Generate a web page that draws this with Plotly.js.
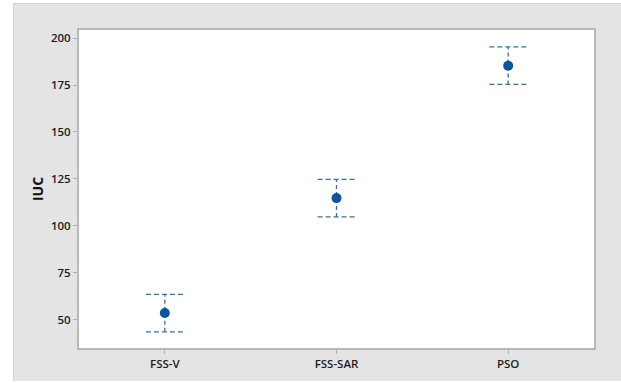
<!DOCTYPE html>
<html>
<head>
<meta charset="utf-8">
<script src="https://cdn.plot.ly/plotly-3.0.1.min.js"></script>
<style>
  html, body { margin: 0; padding: 0; background: #ffffff; }
  #wrap { position: relative; width: 621px; height: 383px; background: #ffffff; overflow: hidden; }
  #chart { position: absolute; left: 13px; top: 3px; width: 608px; height: 378px;
           box-sizing: border-box; border-left: 1px solid #d2d2d2; border-top: 1px solid #d2d2d2;
           border-bottom: 1px solid #d2d2d2; }
</style>
</head>
<body>
<div id="wrap"><div id="chart"></div></div>
<script>
// Interval plot: mean IUC per method with a ±10 interval
const methods = ["FSS-V", "FSS-SAR", "PSO"];
const means = [53.6, 114.8, 185.3];
const halfWidths = [10, 10, 10];
const yTicks = [50, 75, 100, 125, 150, 175, 200];

const capHalf = 0.11; // cap half-length, in category units
const barColor = "#3a6f9f";
const dotColor = "#0a54a0";

const traces = [];
methods.forEach((m, i) => {
  const lo = means[i] - halfWidths[i];
  const hi = means[i] + halfWidths[i];
  // vertical whisker
  traces.push({
    x: [i, i], y: [lo, hi], mode: "lines", type: "scatter",
    line: { color: barColor, width: 1.3, dash: "4px,3px" },
    hoverinfo: "skip", showlegend: false
  });
  // caps
  [lo, hi].forEach(v => {
    traces.push({
      x: [i - capHalf, i + capHalf], y: [v, v], mode: "lines", type: "scatter",
      line: { color: barColor, width: 1.3, dash: "5px,3px" },
      hoverinfo: "skip", showlegend: false
    });
  });
});
// means
traces.push({
  x: methods.map((_, i) => i), y: means, mode: "markers", type: "scatter",
  marker: { color: dotColor, size: 10 }, showlegend: false
});

const tickFont = { family: "Open Sans, Noto Sans, sans-serif", size: 11.5, color: "#1c1c1c", weight: 600 };

const layout = {
  width: 607, height: 377,
  paper_bgcolor: "#e4e4e4",
  plot_bgcolor: "#ffffff",
  margin: { l: 65, r: 27, t: 26, b: 33 },
  font: { family: "Open Sans, Noto Sans, sans-serif", size: 11, color: "#1c1c1c" },
  xaxis: {
    range: [-0.5, 2.5],
    tickmode: "array",
    tickvals: methods.map((_, i) => i),
    ticktext: methods,
    ticks: "outside", ticklen: 4, tickcolor: "#b0b0b0", tickwidth: 1,
    showgrid: false, zeroline: false,
    showline: true, linecolor: "#b8b8b8", linewidth: 2, mirror: true,
    tickfont: tickFont
  },
  yaxis: {
    range: [35.0, 204.3],
    tickmode: "array", tickvals: yTicks,
    ticks: "outside", ticklen: 4, tickcolor: "#b0b0b0", tickwidth: 1,
    showgrid: false, zeroline: false,
    showline: true, linecolor: "#b8b8b8", linewidth: 2, mirror: true,
    tickfont: tickFont,
    title: { text: "<b>IUC</b>", font: { size: 14, color: "#111111" }, standoff: 4 }
  }
};

Plotly.newPlot("chart", traces, layout, { staticPlot: true, displayModeBar: false });
</script>
</body>
</html>
